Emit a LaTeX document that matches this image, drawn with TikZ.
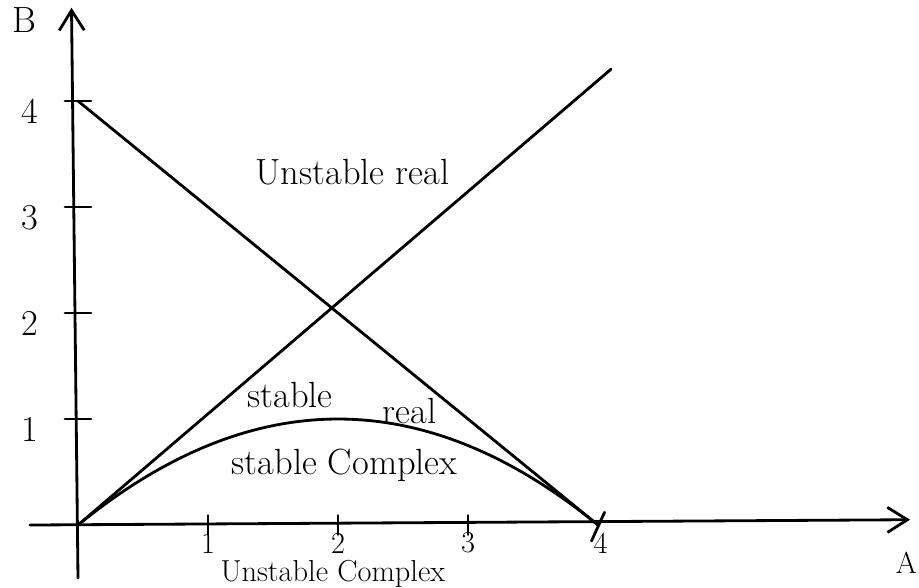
\documentclass[tikz,border=0pt]{standalone}
\usepackage{tikz}
\usetikzlibrary{arrows.meta, calc}
\tikzset{
  ink/.style={line width=1.6pt, black, line cap=round, line join=round},
  axisarrow/.style={ink, -{Straight Barb[length=4mm, width=5mm, line width=1.6pt]}},
  tickmark/.style={ink},
  ticklabel/.style={font=\huge, inner sep=1pt},
  region/.style={font=\huge, inner sep=1pt}
}

\begin{document}
\begin{tikzpicture}[x=2.6cm, y=2.12cm]
        \useasboundingbox (-0.6, -0.594) rectangle (6.469, 4.953);
        % points of the diagram
        \coordinate (orig) at (0, 0);
        \coordinate (bfour) at (0, 4);
        \coordinate (afour) at (4, 0);
        \coordinate (diagend) at (4.1, 4.3);
        \coordinate (ybot) at (0, -0.5);
        \coordinate (ytop) at (-0.05, 4.88);
        \coordinate (xleft) at (-0.37, 0);
        \coordinate (xright) at (6.4, 0.05);
        % axes
        \draw[axisarrow] (ybot) -- (ytop);
        \draw[axisarrow] (xleft) -- (xright);
        \node[ticklabel] (blab) at (-0.41, 4.76) {B};
        \node[ticklabel, font=\LARGE, anchor=east] (alab) at (6.469, -0.36) {A};
        % ticks
        \foreach \k in {1, 2, 3, 4} {
          \draw[tickmark] (-0.1, \k) -- (0.1, \k);
          \node[ticklabel] (ylab\k) at (-0.37, \k - 0.1) {\k};
        }
        \foreach \k in {1, 2, 3} {
          \draw[tickmark] (\k, -0.09) -- (\k, 0.09);
          \node[ticklabel, font=\LARGE] (xlab\k) at (\k, -0.17) {\k};
        }
        \draw[tickmark] (3.95, -0.15) -- (4.05, 0.12);
        \node[ticklabel, font=\LARGE] (xlab4) at (4.02, -0.17) {4};
        % boundaries
        \draw[ink] (bfour) -- (afour);
        \draw[ink] (orig) -- (diagend);
        \draw[ink] (orig) .. controls (4/3, 4/3) and (8/3, 4/3) .. (afour);
        % regions
        \node[region] (unreal) at (2.11, 3.33) {Unstable real};
        \node[region] (streal) at (1.63, 1.23) {stable};
        \node[region] (strealb) at (2.55, 1.08) {real};
        \node[region] (stcplx) at (2.05, 0.56) {stable Complex};
        \node[region, font=\LARGE, inner sep=0pt] (uncplx) at (1.96, -0.46) {Unstable Complex};
      \end{tikzpicture}
\end{document}
